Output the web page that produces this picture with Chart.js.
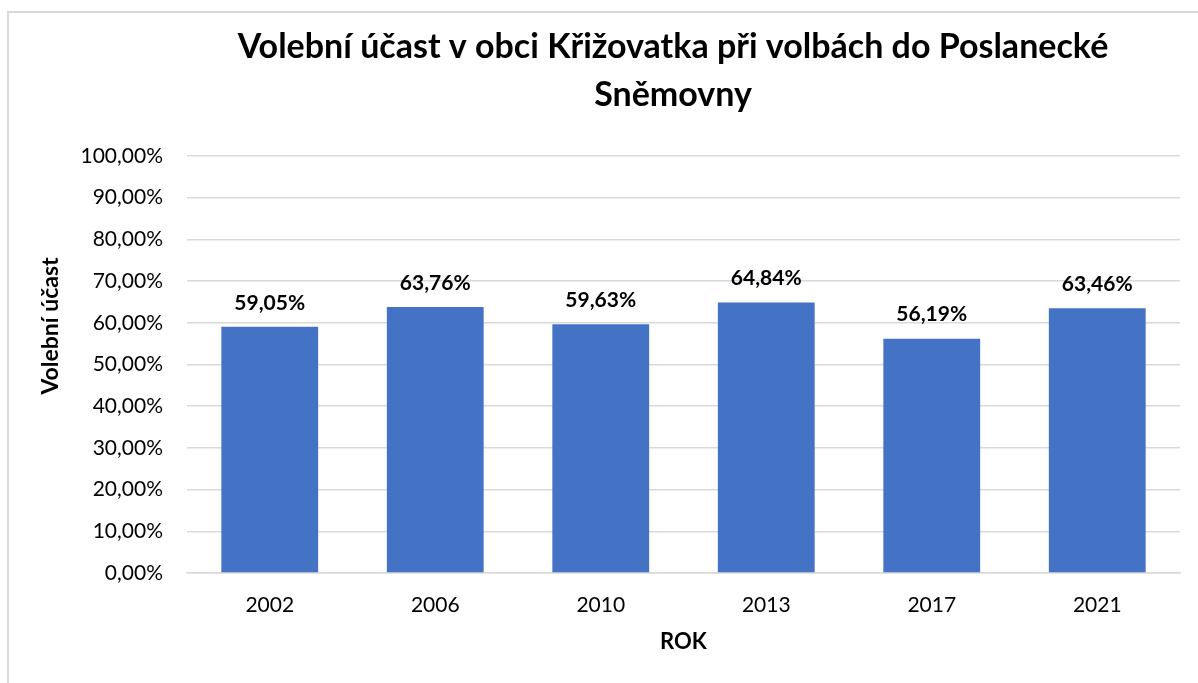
<!DOCTYPE html>
<html lang="cs">
<head>
    <meta charset="UTF-8">
    <title>Volební účast</title>
    <style>
        body { margin: 0; background: #fff; }
        .ramecek { position: absolute; left: 7px; top: 11px; width: 1300px; height: 800px; border: 2px solid #d9d9d9; }
        .graf { position: absolute; left: 0; top: 0; width: 1198px; height: 683px; }
    </style>
</head>
<body>
    <div class="ramecek"></div>
    <div class="graf"><canvas id="ucast"></canvas></div>

<script src="https://cdn.jsdelivr.net/npm/chart.js"></script>
<script>
// data z grafu
const roky = ['2002', '2006', '2010', '2013', '2017', '2021'];
const ucast = [59.05, 63.76, 59.63, 64.84, 56.19, 63.46];
const nadpis = ['Volební účast v obci Křižovatka při volbách do Poslanecké', 'Sněmovny'];
const popisekY = 'Volební účast';
const popisekX = 'ROK';

const pismo = 'Lato, "Open Sans", sans-serif';

function procenta(v) {
    return v.toFixed(2).replace('.', ',') + '%';
}

// nadpis, popisek osy Y a hodnoty nad sloupci
const popisky = {
    id: 'popisky',
    afterDatasetsDraw(chart) {
        const ctx = chart.ctx;
        ctx.save();
        ctx.fillStyle = '#000';
        ctx.textAlign = 'center';
        ctx.textBaseline = 'middle';

        ctx.font = 'bold 21px ' + pismo;
        const meta = chart.getDatasetMeta(0);
        meta.data.forEach((bar, i) => {
            ctx.fillText(procenta(ucast[i]), bar.x, bar.y - 24);
        });

        ctx.font = 'bold 34px ' + pismo;
        nadpis.forEach((radek, i) => {
            ctx.fillText(radek, 673, 47 + i * 48);
        });

        ctx.font = 'bold 23px ' + pismo;
        ctx.translate(51, 326);
        ctx.rotate(-Math.PI / 2);
        ctx.fillText(popisekY, 0, 0);
        ctx.restore();
    }
};

const ctx = document.getElementById('ucast').getContext('2d');

new Chart(ctx, {
    type: 'bar',
    data: {
        labels: roky,
        datasets: [{
            label: popisekY,
            data: ucast,
            backgroundColor: '#4472C4',
            barPercentage: 0.585,
            categoryPercentage: 1
        }]
    },
    options: {
        responsive: true,
        maintainAspectRatio: false,
        animation: false,
        layout: { padding: { left: 0, right: 18, top: 156, bottom: 0 } },
        plugins: {
            legend: { display: false },
            tooltip: { enabled: false }
        },
        scales: {
            x: {
                grid: { display: false, drawTicks: false },
                border: { color: '#d9d9d9', width: 1.5 },
                ticks: { color: '#000', padding: 20, font: { family: pismo, size: 21 } },
                title: {
                    display: true,
                    text: popisekX,
                    color: '#000',
                    padding: { top: 0, bottom: 28 },
                    font: { family: pismo, size: 22, weight: 'bold' }
                },
                afterFit(scale) { scale.height = 110; }
            },
            y: {
                min: 0,
                max: 100,
                grid: { color: '#d9d9d9', lineWidth: 1.5, drawTicks: false },
                border: { display: false },
                ticks: {
                    stepSize: 10,
                    color: '#000',
                    padding: 24,
                    font: { family: pismo, size: 21 },
                    callback: v => procenta(v)
                },
                afterFit(scale) { scale.width = 187; }
            }
        }
    },
    plugins: [popisky]
});
</script>
</body>
</html>
